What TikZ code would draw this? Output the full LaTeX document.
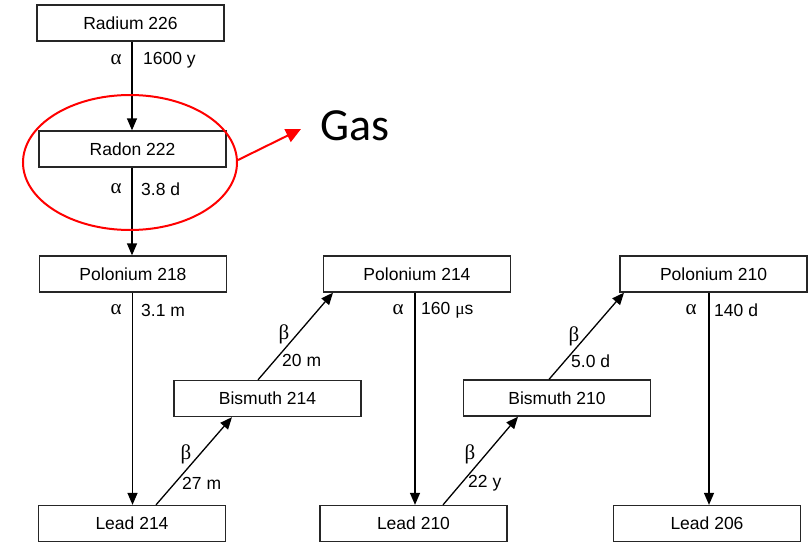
\documentclass[tikz,border=0pt]{standalone}
\usepackage{fontspec}
\setmainfont{Liberation Sans}
\newfontfamily\grk{Liberation Serif}
\newfontfamily\calib{Carlito}
\usetikzlibrary{arrows.meta,shapes.geometric}
\begin{document}
\begin{tikzpicture}[x=1pt,y=-1pt,
  box/.style={draw=black!85,line width=1.3pt,minimum width=187pt,minimum height=36pt,inner sep=0pt,font=\fontsize{17.5}{20}\selectfont},
  arr/.style={line width=1.3pt,-{Triangle[length=12pt,width=10pt]}},
  lbl/.style={font=\fontsize{17.5}{20}\selectfont,inner sep=0pt,anchor=west},
  gk/.style={font=\grk\fontsize{21}{23}\selectfont,inner sep=0pt}]
\useasboundingbox (0,0) rectangle (810,543);
% boxes
\node[box] (ra) at (130.5,23) {Radium 226};
\node[box] (rn) at (132.5,149) {Radon 222};
\node[box] (p218) at (133,274) {Polonium 218};
\node[box] (p214) at (417,274) {Polonium 214};
\node[box] (b214) at (267.5,398.5) {Bismuth 214};
\node[box] (l214) at (132,523.5) {Lead 214};
\node[box] (l210) at (413.5,523.5) {Lead 210};
\node[box] (p210) at (713.5,274) {Polonium 210};
\node[box] (b210) at (557,398) {Bismuth 210};
\node[box] (l206) at (707,523.5) {Lead 206};
% vertical arrows
\draw[arr] (ra.south -| 132,0) -- (rn.north -| 132,0);
\draw[arr] (rn.south -| 132,0) -- (p218.north -| 132,0);
\draw[arr] (p218.south -| 132.5,0) -- (l214.north -| 132.5,0);
\draw[arr] (p214.south -| 415,0) -- (l210.north -| 415,0);
\draw[arr] (p210.south -| 709,0) -- (l206.north -| 709,0);
% diagonal arrows
\draw[arr] (l214.north -| 156,0) -- (b214.south -| 232,0);
\draw[arr] (b214.north -| 258,0) -- (p214.south -| 333,0);
\draw[arr] (l210.north -| 443,0) -- (b210.south -| 518,0);
\draw[arr] (b210.north -| 549,0) -- (p210.south -| 624,0);
% alpha labels
\node[gk] (a1) at (116,60) {α};
\node[lbl] (t1) at (143,60) {1600 y};
\node[gk] (a2) at (116,189) {α};
\node[lbl] (t2) at (141,189) {3.8 d};
\node[gk] (a3) at (116,310) {α};
\node[lbl] (t3) at (141,310) {3.1 m};
\node[gk] (a4) at (398,310) {α};
\node[lbl] (t4) at (421,310) {160 {\grk μ}s};
\node[gk] (a5) at (691,310) {α};
\node[lbl] (t5) at (714,310) {140 d};
% beta labels
\node[gk] (b1) at (284,334) {β};
\node[lbl] (u1) at (282,360) {20 m};
\node[gk] (b2) at (186,454) {β};
\node[lbl] (u2) at (182,483) {27 m};
\node[gk] (b3) at (470,454) {β};
\node[lbl] (u3) at (468,483) {22 y};
\node[gk] (b4) at (574,336) {β};
\node[lbl] (u4) at (571,361) {5.0 d};
% red highlight
\node[draw=red,line width=2pt,ellipse,minimum width=214pt,minimum height=135pt,inner sep=0pt] (gasring) at (130,162.5) {};
\node[font=\calib\fontsize{46}{50}\selectfont,inner sep=0pt,anchor=base west] (gas) at (320,140.5) {Gas};
\coordinate (gastip) at (301,129);
\draw[red,line width=2pt,-{Triangle[length=15pt,width=14pt]}] (gasring.east |- 0,160) -- (gastip);
\end{tikzpicture}
\end{document}
